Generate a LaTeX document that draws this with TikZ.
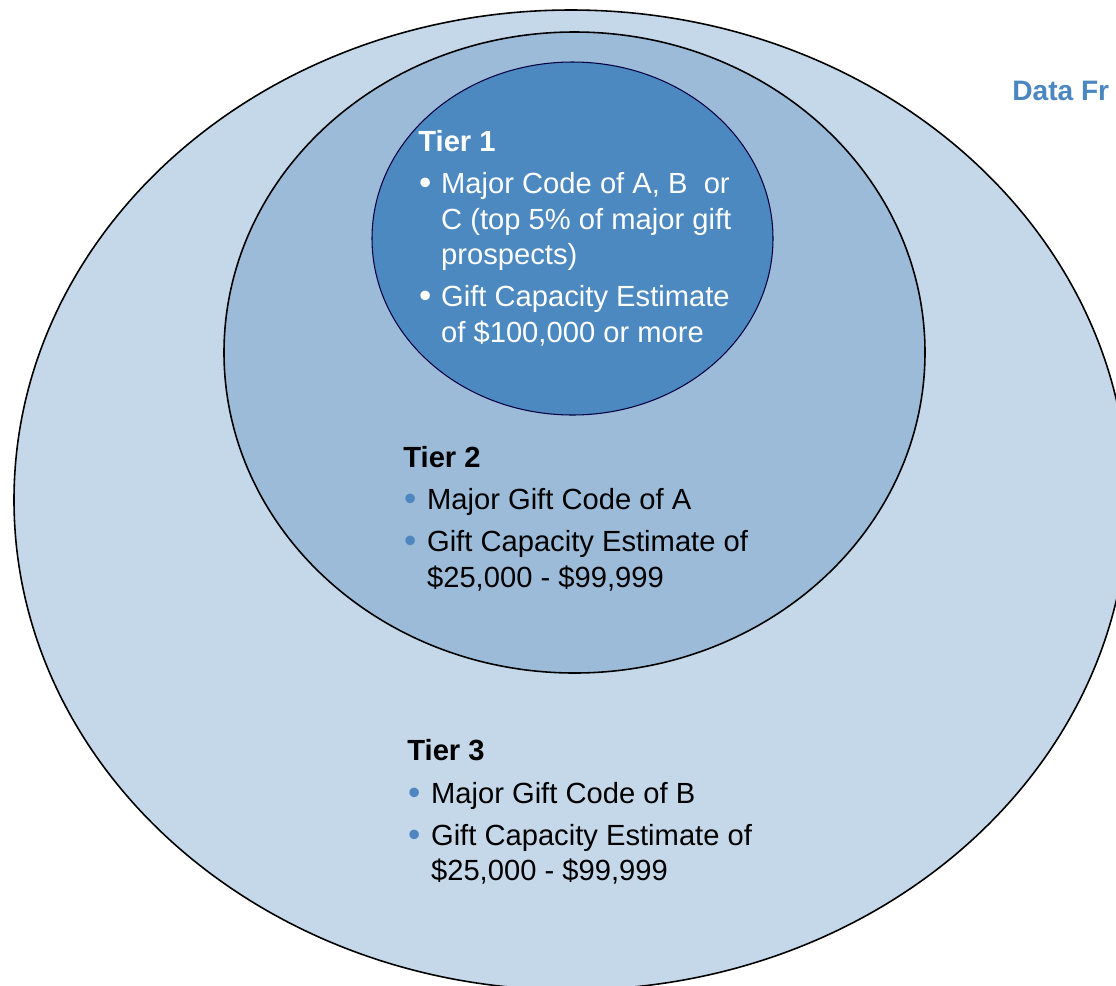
\documentclass[tikz,border=0pt]{standalone}
\usepackage{fontspec}
\setmainfont{Liberation Sans}
\usepackage{array}
\definecolor{ringouter}{HTML}{C5D8E9}
\definecolor{ringmid}{HTML}{9BBBD9}
\definecolor{ringinner}{HTML}{4C89C0}
\definecolor{bulletblue}{HTML}{4F86C0}
\definecolor{headblue}{HTML}{4A86C0}
\newcommand{\tierfont}{\fontsize{16.6}{20.2}\selectfont}
\newcommand{\tierdot}{\hspace{0.5pt}\raisebox{-0.6pt}{\scalebox{1.2}{\textbullet}}}

\begin{document}
\begin{tikzpicture}[
        x=0.02cm, y=-0.02cm,
        ring/.style={draw=black, line width=0.9pt},
        tiertext/.style={anchor=base west, inner sep=0pt, font=\tierfont},
    ]
    \clip (0,0) rectangle (1116,985);

    % Rings
    \draw [ring, fill=ringouter] (571,500) ellipse [x radius=557, y radius=490];
    \draw [ring, fill=ringmid] (574.5,352.5) ellipse [x radius=350.5, y radius=320.5];
    \draw [ring, draw=black!75!blue, line width=0.6pt, fill=ringinner] (572.5,238.5) ellipse [x radius=200.5, y radius=176.5];

    % Texts
    \node [tiertext, text=white] (tier1) at (418,151) {%
        \begin{tabular}[t]{@{}p{13pt}@{}l@{}}
        \multicolumn{2}{@{}l@{}}{\bfseries Tier 1}\\[4.2pt]
        \tierdot & Major Code of A, B\ \ or\\
         & C (top 5\% of major gift\\
         & prospects)\\[3.6pt]
        \tierdot & Gift Capacity Estimate\\
         & of \$100,000 or more
        \end{tabular}};
    \node [tiertext] (tier2) at (403,467) {%
        \begin{tabular}[t]{@{}p{13.5pt}@{}l@{}}
        \multicolumn{2}{@{}l@{}}{\bfseries Tier 2}\\[4.2pt]
        \textcolor{bulletblue}{\tierdot} & Major Gift Code of A\\[3.6pt]
        \textcolor{bulletblue}{\tierdot} & Gift Capacity Estimate of\\
         & \$25,000 - \$99,999
        \end{tabular}};
    \node [tiertext] (tier3) at (407,760) {%
        \begin{tabular}[t]{@{}p{13.5pt}@{}l@{}}
        \multicolumn{2}{@{}l@{}}{\bfseries Tier 3}\\[4.6pt]
        \textcolor{bulletblue}{\tierdot} & Major Gift Code of B\\[3.4pt]
        \textcolor{bulletblue}{\tierdot} & Gift Capacity Estimate of\\
         & \$25,000 - \$99,999
        \end{tabular}};
    \node [anchor=base west, inner sep=0pt, text=headblue,
           font=\fontsize{16}{19}\selectfont\bfseries] (datahead) at (1012,100) {Data Fr};

\end{tikzpicture}
\end{document}
